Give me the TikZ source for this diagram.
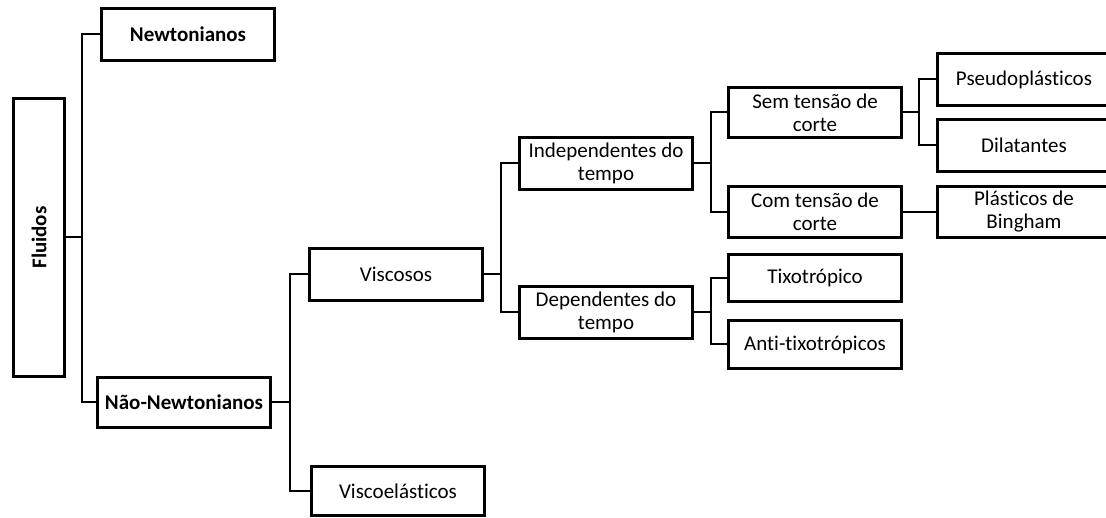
\documentclass[tikz,border=0pt]{standalone}
\usepackage{fontspec}
\setmainfont[Ligatures={NoCommon}]{Carlito}
\begin{document}
\begin{tikzpicture}[x=1pt,y=-1pt,
  box/.style={draw=black, line width=3.3pt, fill=white, inner sep=0pt,
    minimum width=172.7pt, minimum height=51.7pt, align=center,
    font=\fontsize{21}{23}\selectfont},
  bbox/.style={box, font=\fontsize{21}{23}\selectfont\bfseries},
  conn/.style={draw=black, line width=2pt}]
\useasboundingbox (0,0) rectangle (1106,518);
\clip (0,0) rectangle (1106,518);
\fill[white] (0,0) rectangle (1106,518);

% root
\node[box, minimum width=50.7pt, minimum height=277.7pt] (fl) at (39,237.5) {};
\node[rotate=90, font=\fontsize{21}{23}\selectfont\bfseries] (fltext) at (fl) {Fluidos};

% first level
\node[bbox] (nw) at (188,34.5) {Newtonianos};
\node[bbox, minimum height=49.7pt] (nn) at (184,402.5) {Não-Newtonianos};

% second level
\node[box] (vis) at (396,274.5) {Viscosos};
\node[box, minimum height=48.7pt] (vel) at (398,491) {Viscoelásticos};

% third level
\node[box] (ind) at (606,163.5) {Independentes do\\tempo};
\node[box] (dep) at (606,312.5) {Dependentes do\\tempo};

% fourth level
\node[box, minimum height=49.7pt] (sem) at (815,112.5) {Sem tensão de\\corte};
\node[box, minimum height=50.7pt] (com) at (815,212) {Com tensão de\\corte};
\node[box, minimum height=46.7pt] (tix) at (815,278) {Tixotrópico};
\node[box, minimum height=47.7pt] (anti) at (815,344.5) {Anti-tixotrópicos};

% fifth level
\node[box] (pse) at (1024,79.5) {Pseudoplásticos};
\node[box] (dil) at (1024,145.5) {Dilatantes};
\node[box, minimum height=50.7pt] (bin) at (1024,212) {Plásticos de\\Bingham};

% connectors
\coordinate (b1) at (82,237.5);
\draw[conn] (fl.east) -- (b1);
\draw[conn] (nw.west) -| (b1) |- (nn.west);

\coordinate (b2) at (290,402.5);
\draw[conn] (nn.east) -- (b2);
\draw[conn] (vis.west) -| (b2) |- (vel.west);

\coordinate (b3) at (501,274.5);
\draw[conn] (vis.east) -- (b3);
\draw[conn] (ind.west) -| (b3) |- (dep.west);

\coordinate (b4) at (710.5,163.5);
\draw[conn] (ind.east) -- (b4);
\draw[conn] (sem.west) -| (b4) |- (com.west);

\coordinate (b5) at (710.5,312.5);
\draw[conn] (dep.east) -- (b5);
\draw[conn] (tix.west) -| (b5) |- (anti.west);

\coordinate (b6) at (919,112.5);
\draw[conn] (sem.east) -- (b6);
\draw[conn] (pse.west) -| (b6) |- (dil.west);

\draw[conn] (com.east) -- (bin.west);
\end{tikzpicture}
\end{document}
